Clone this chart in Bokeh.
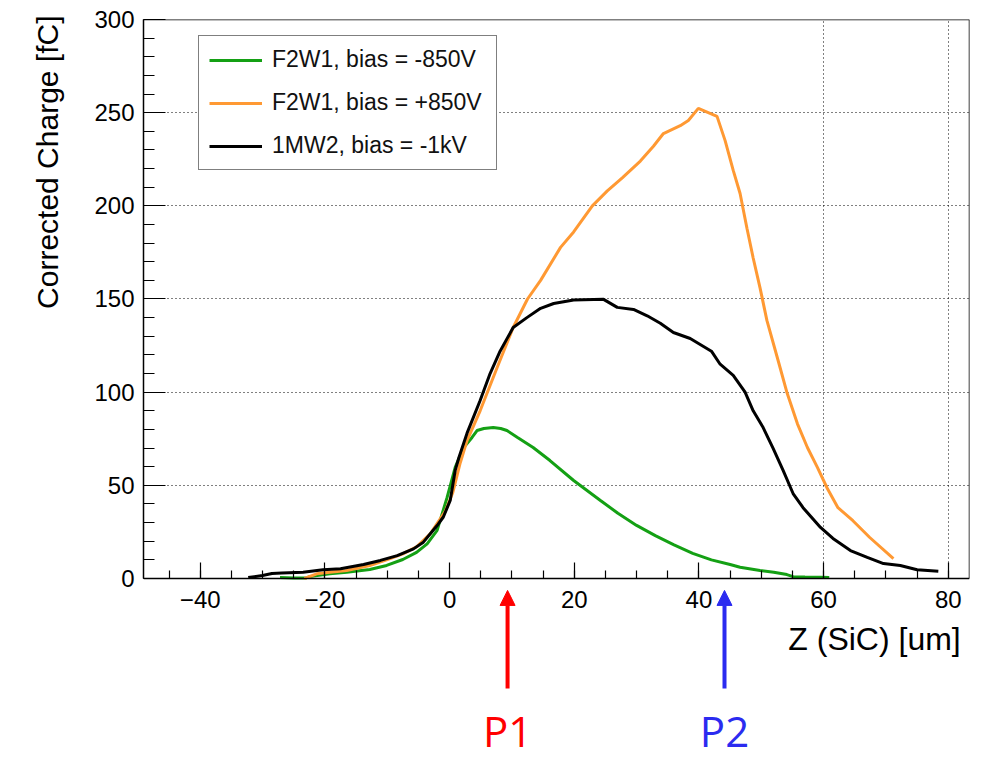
from bokeh.plotting import figure
from bokeh.models import (Range1d, SingleIntervalTicker, FixedTicker, LinearAxis, Grid,
                          Legend, LegendItem, Label, Arrow, NormalHead, Title)
from bokeh.embed import file_html
from bokeh.resources import INLINE

# ---------------- data ----------------
series_names = ["F2W1, bias = -850V", "F2W1, bias = +850V", "1MW2, bias = -1kV"]
series_colors = ["#14a014", "#ff9933", "#000000"]

z_green = [-27.2, -25.0, -23.0, -22.4, -19.2, -16.5, -12.8, -10.1, -7.5, -5.3, -3.6, -2.0,
           -0.4, 0.9, 2.2, 3.6, 4.4, 5.5, 7.0, 8.2, 9.2, 10.9, 13.4, 16.1, 19.9, 24.2,
           27.0, 30.0, 33.0, 36.0, 39.0, 42.0, 45.0, 46.6, 49.8, 52.0, 54.1, 55.1, 57.0,
           59.5, 60.9]
q_green = [0.5, 0.3, 0.3, 1.0, 2.5, 3.4, 4.8, 7.0, 10.2, 14.0, 18.6, 25.8,
           43.5, 59.6, 70.0, 75.7, 79.4, 80.5, 81.0, 80.5, 79.4, 75.7, 70.3, 63.3, 52.6, 41.9,
           35.0, 28.5, 23.0, 18.0, 13.5, 10.0, 7.5, 6.0, 4.3, 3.4, 2.1, 1.0, 0.8,
           0.7, 0.5]

z_orange = [-23.3, -21.3, -19.2, -16.5, -12.8, -10.1, -7.5, -5.3, -3.1, -0.7, 0.5, 1.7,
            2.8, 4.9, 7.6, 10.2, 12.5, 14.6, 17.8, 19.9, 22.9, 25.3, 27.7, 30.6, 32.7,
            34.3, 37.0, 38.3, 39.9, 42.9, 44.2, 45.5, 46.6, 47.7, 48.7, 49.8, 50.9, 52.7,
            54.1, 55.8, 57.4, 59.0, 60.6, 62.3, 64.7, 67.4, 71.2]
q_orange = [0.0, 2.5, 3.4, 4.3, 7.0, 10.0, 13.2, 17.0, 24.0, 36.0, 46.0, 62.0,
            74.0, 90.0, 113.0, 134.7, 150.0, 160.0, 177.7, 186.0, 200.0, 208.0, 215.0, 224.0, 232.0,
            238.8, 243.0, 245.8, 252.3, 248.0, 235.0, 219.0, 206.6, 188.0, 172.0, 156.0, 138.5, 117.0,
            100.0, 83.0, 70.3, 59.6, 48.3, 38.0, 31.0, 22.0, 10.7]

z_black = [-32.3, -30.0, -28.5, -26.9, -23.5, -20.3, -17.5, -13.8, -11.1, -8.4, -5.8, -4.2,
           -3.1, -2.0, -1.0, 0.1, 0.9, 1.5, 2.8, 4.9, 6.5, 8.1, 10.2, 12.4, 14.6, 16.7, 19.9,
           24.7, 26.9, 29.5, 31.7, 33.8, 35.9, 38.6, 40.0, 42.0, 43.4, 45.5, 47.4, 48.7,
           50.3, 51.9, 53.5, 55.1, 56.7, 59.5, 61.5, 64.3, 67.0, 69.6, 72.3, 75.0, 78.4]
q_black = [0.5, 1.6, 2.7, 3.0, 3.4, 4.7, 5.2, 7.5, 9.7, 12.3, 15.9, 19.5,
           24.0, 28.4, 33.0, 41.9, 58.0, 65.0, 78.0, 95.5, 110.0, 122.0, 134.7, 140.0, 145.0, 147.6, 149.5,
           149.8, 145.5, 144.4, 141.0, 137.0, 132.0, 128.8, 126.0, 122.0, 115.0, 109.0, 100.0, 90.0,
           81.0, 69.8, 58.0, 45.6, 38.0, 27.4, 21.5, 15.0, 11.3, 8.0, 7.0, 4.7, 3.9]

x_tick_labels = {-40: "\u221240", -20: "\u221220", 0: "0", 20: "20", 40: "40", 60: "60", 80: "80"}

marker_z = [9.3, 44.1]
marker_names = ["P1", "P2"]
marker_colors = ["#ff0000", "#2b2bf0"]

# ---------------- layout ----------------
FONT = "Liberation Sans"
X_MIN, X_MAX = -49.1, 83.4
Y_MAX = 300
Y_EXT = -97.14      # extends the frame below zero for the P1/P2 markers
XTITLE_SPAN = (53.2, 83.0)    # title placed along this part of the x axis (right aligned look)

p = figure(width=985, height=759, x_range=Range1d(X_MIN, X_MAX), y_range=Range1d(Y_EXT, Y_MAX),
           x_axis_type=None, y_axis_type=None,
           output_backend="svg", toolbar_location=None,
           min_border_left=143, min_border_right=16, min_border_top=19, min_border_bottom=0)
p.background_fill_color = "white"
p.border_fill_color = "white"
p.outline_line_color = None

xticker = SingleIntervalTicker(interval=20, num_minor_ticks=4)
yticker = SingleIntervalTicker(interval=50, num_minor_ticks=5)

xaxis = LinearAxis(ticker=xticker, fixed_location=0, major_label_overrides=x_tick_labels)
yaxis = LinearAxis(ticker=yticker, bounds=(0, Y_MAX))
top_axis = LinearAxis(ticker=FixedTicker(ticks=[]), fixed_location=Y_MAX)
right_axis = LinearAxis(ticker=FixedTicker(ticks=[]), fixed_location=X_MAX, bounds=(0, Y_MAX))
xtitle_axis = LinearAxis(ticker=FixedTicker(ticks=[]), fixed_location=0, bounds=XTITLE_SPAN)

for ax in (xaxis, yaxis, top_axis, right_axis, xtitle_axis):
    ax.axis_line_color = "black"
    ax.axis_line_width = 1.5
    ax.major_tick_out = 0
    ax.minor_tick_out = 0
    ax.major_tick_line_color = "black"
    ax.minor_tick_line_color = "black"
    ax.major_tick_line_width = 1.2
    ax.minor_tick_line_width = 1.2
    ax.major_label_text_font = FONT
    ax.major_label_text_font_size = "24px"
    ax.major_label_text_color = "black"
    ax.axis_label_text_font = FONT
    ax.axis_label_text_font_style = "normal"
    ax.axis_label_text_color = "black"

xaxis.major_tick_in = 16
xaxis.minor_tick_in = 8
yaxis.major_tick_in = 22
yaxis.minor_tick_in = 11
xaxis.major_label_standoff = 13
yaxis.major_label_standoff = 9

xtitle_axis.axis_line_color = None
xtitle_axis.major_tick_line_color = None
xtitle_axis.minor_tick_line_color = None
xtitle_axis.axis_label = "Z (SiC) [um]"
xtitle_axis.axis_label_text_font_size = "32px"
xtitle_axis.axis_label_standoff = 42

p.add_layout(xaxis, "below")
p.add_layout(xtitle_axis, "below")
p.add_layout(yaxis, "left")
p.add_layout(top_axis, "above")
p.add_layout(right_axis, "right")

ytitle = Title(text="Corrected Charge [fC]", align="right", vertical_align="bottom",
               offset=-4, standoff=56, text_font=FONT, text_font_size="30px",
               text_font_style="normal", text_color="black")
p.add_layout(ytitle, "left")

xgrid = Grid(dimension=0, ticker=xticker)
ygrid = Grid(dimension=1, ticker=yticker)
for g in (xgrid, ygrid):
    g.grid_line_color = "black"
    g.grid_line_dash = "1 3"
    g.grid_line_width = 1
    g.grid_line_alpha = 1.0
use_mask = False
try:
    xgrid.cross_bounds = (0, Y_MAX)
except Exception:
    use_mask = True
p.add_layout(xgrid, "center")
p.add_layout(ygrid, "center")
if use_mask:
    p.quad(left=X_MIN, right=X_MAX, bottom=Y_EXT, top=0, fill_color="white", line_color=None)

r_g = p.line(z_green, q_green, line_color=series_colors[0], line_width=3)
r_o = p.line(z_orange, q_orange, line_color=series_colors[1], line_width=3)
r_b = p.line(z_black, q_black, line_color=series_colors[2], line_width=3)

legend = Legend(items=[LegendItem(label=series_names[0], renderers=[r_g]),
                       LegendItem(label=series_names[1], renderers=[r_o]),
                       LegendItem(label=series_names[2], renderers=[r_b])],
                location=(55, 589))
legend.border_line_color = "black"
legend.border_line_width = 1.5
legend.background_fill_color = "white"
legend.background_fill_alpha = 1.0
legend.label_text_font = FONT
legend.label_text_font_size = "23px"
legend.label_text_color = "#111111"
legend.glyph_width = 53
legend.glyph_height = 20
legend.label_height = 20
legend.label_width = 214
legend.label_standoff = 10
legend.spacing = 16
legend.padding = 10
legend.margin = 0
p.add_layout(legend, "center")

# P1 / P2 markers below the axis
arrow_y_start = -59.0
arrow_y_end = -6.4
label_y = -81.7
for zz, name, col in zip(marker_z, marker_names, marker_colors):
    p.add_layout(Arrow(x_start=zz, y_start=arrow_y_start, x_end=zz, y_end=arrow_y_end,
                       line_color=col, line_width=4,
                       end=NormalHead(size=15, fill_color=col, line_color=col)))
    p.add_layout(Label(x=zz, y=label_y, text=name, text_color=col,
                       text_font="Open Sans", text_font_size="42px",
                       text_align="center", text_baseline="middle"))

open("out.html", "w").write(file_html(p, INLINE))
